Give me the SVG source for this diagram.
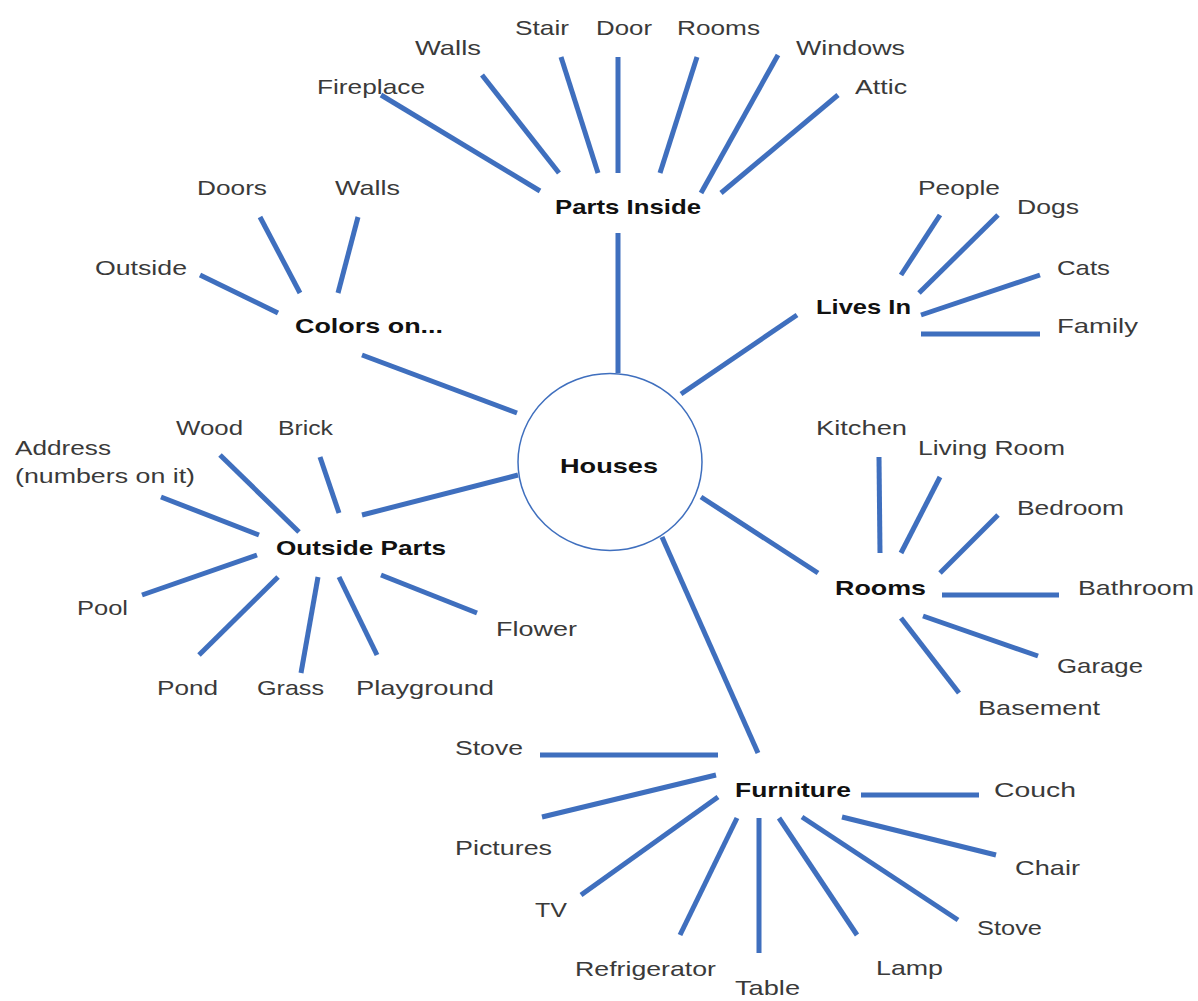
<svg xmlns="http://www.w3.org/2000/svg" width="1198" height="1001" viewBox="0 0 1198 1001">
<style>
.t{font-family:"Liberation Sans",Arial,sans-serif;font-size:21px;fill:#3a3a3a}
.b{font-family:"Liberation Sans",Arial,sans-serif;font-size:21px;font-weight:bold;fill:#111}
.c line{stroke:#3f6fbe;stroke-width:5;stroke-linecap:butt}
</style>
<rect width="1198" height="1001" fill="#fff"/>
<g id="connectors" class="c">
<line x1="618" y1="233" x2="618" y2="373"/>
<line x1="362" y1="355" x2="517" y2="413"/>
<line x1="362" y1="515" x2="518" y2="475"/>
<line x1="797" y1="315" x2="681" y2="394"/>
<line x1="701" y1="497" x2="818" y2="573"/>
<line x1="662" y1="537" x2="758" y2="753"/>
<line x1="381" y1="95" x2="540" y2="191"/>
<line x1="482" y1="75" x2="559" y2="173"/>
<line x1="561" y1="57" x2="598" y2="173"/>
<line x1="618" y1="57" x2="618" y2="173"/>
<line x1="697" y1="57" x2="660" y2="173"/>
<line x1="778" y1="55" x2="701" y2="193"/>
<line x1="838" y1="95" x2="721" y2="193"/>
<line x1="260" y1="217" x2="300" y2="293"/>
<line x1="358" y1="217" x2="338" y2="293"/>
<line x1="200" y1="275" x2="278" y2="313"/>
<line x1="940" y1="215" x2="901" y2="275"/>
<line x1="998" y1="215" x2="919" y2="293"/>
<line x1="1040" y1="275" x2="921" y2="315"/>
<line x1="921" y1="334" x2="1040" y2="334"/>
<line x1="161" y1="497" x2="259" y2="535"/>
<line x1="220" y1="455" x2="299" y2="532"/>
<line x1="320" y1="457" x2="339" y2="513"/>
<line x1="142" y1="595" x2="257" y2="555"/>
<line x1="199" y1="655" x2="278" y2="577"/>
<line x1="301" y1="673" x2="318" y2="577"/>
<line x1="377" y1="655" x2="339" y2="577"/>
<line x1="477" y1="613" x2="381" y2="575"/>
<line x1="879" y1="457" x2="880" y2="553"/>
<line x1="940" y1="477" x2="901" y2="553"/>
<line x1="998" y1="515" x2="940" y2="573"/>
<line x1="942" y1="595" x2="1059" y2="595"/>
<line x1="923" y1="616" x2="1038" y2="656"/>
<line x1="901" y1="618" x2="959" y2="693"/>
<line x1="540" y1="755" x2="718" y2="755"/>
<line x1="542" y1="817" x2="716" y2="775"/>
<line x1="581" y1="895" x2="718" y2="797"/>
<line x1="680" y1="935" x2="737" y2="818"/>
<line x1="759" y1="953" x2="759" y2="818"/>
<line x1="857" y1="935" x2="779" y2="818"/>
<line x1="958" y1="920" x2="802" y2="817"/>
<line x1="996" y1="855" x2="842" y2="817"/>
<line x1="861" y1="795" x2="979" y2="795"/>
</g>
<g id="houses">
<ellipse cx="610" cy="462" rx="92" ry="88.5" fill="#fff" stroke="#3f6fbe" stroke-width="1.5"/>
<text class="b" x="560" y="473" textLength="98" lengthAdjust="spacingAndGlyphs">Houses</text>
</g>
<g id="parts-inside"><text class="b" x="555" y="214" textLength="146" lengthAdjust="spacingAndGlyphs">Parts Inside</text></g>
<g id="colors-on"><text class="b" x="295" y="333" textLength="148" lengthAdjust="spacingAndGlyphs">Colors on...</text></g>
<g id="lives-in"><text class="b" x="816" y="314" textLength="95" lengthAdjust="spacingAndGlyphs">Lives In</text></g>
<g id="outside-parts"><text class="b" x="276" y="555" textLength="170" lengthAdjust="spacingAndGlyphs">Outside Parts</text></g>
<g id="rooms"><text class="b" x="835" y="595" textLength="91" lengthAdjust="spacingAndGlyphs">Rooms</text></g>
<g id="furniture"><text class="b" x="735" y="797" textLength="116" lengthAdjust="spacingAndGlyphs">Furniture</text></g>
<g id="fireplace"><text class="t" x="317" y="94" textLength="108" lengthAdjust="spacingAndGlyphs">Fireplace</text></g>
<g id="walls-in"><text class="t" x="415" y="55" textLength="66" lengthAdjust="spacingAndGlyphs">Walls</text></g>
<g id="stair"><text class="t" x="515" y="35" textLength="54" lengthAdjust="spacingAndGlyphs">Stair</text></g>
<g id="door"><text class="t" x="596" y="35" textLength="56" lengthAdjust="spacingAndGlyphs">Door</text></g>
<g id="rooms-in"><text class="t" x="677" y="35" textLength="83" lengthAdjust="spacingAndGlyphs">Rooms</text></g>
<g id="windows"><text class="t" x="796" y="55" textLength="109" lengthAdjust="spacingAndGlyphs">Windows</text></g>
<g id="attic"><text class="t" x="855" y="94" textLength="52" lengthAdjust="spacingAndGlyphs">Attic</text></g>
<g id="doors"><text class="t" x="197" y="195" textLength="70" lengthAdjust="spacingAndGlyphs">Doors</text></g>
<g id="walls-col"><text class="t" x="335" y="195" textLength="65" lengthAdjust="spacingAndGlyphs">Walls</text></g>
<g id="outside"><text class="t" x="95" y="275" textLength="92" lengthAdjust="spacingAndGlyphs">Outside</text></g>
<g id="people"><text class="t" x="918" y="195" textLength="82" lengthAdjust="spacingAndGlyphs">People</text></g>
<g id="dogs"><text class="t" x="1017" y="214" textLength="62" lengthAdjust="spacingAndGlyphs">Dogs</text></g>
<g id="cats"><text class="t" x="1057" y="275" textLength="53" lengthAdjust="spacingAndGlyphs">Cats</text></g>
<g id="family"><text class="t" x="1057" y="333" textLength="81" lengthAdjust="spacingAndGlyphs">Family</text></g>
<g id="address"><text class="t" x="15" y="455" textLength="96" lengthAdjust="spacingAndGlyphs">Address</text><text class="t" x="15" y="483" textLength="180" lengthAdjust="spacingAndGlyphs">(numbers on it)</text></g>
<g id="wood"><text class="t" x="176" y="435" textLength="67" lengthAdjust="spacingAndGlyphs">Wood</text></g>
<g id="brick"><text class="t" x="278" y="435" textLength="55" lengthAdjust="spacingAndGlyphs">Brick</text></g>
<g id="pool"><text class="t" x="77" y="615" textLength="51" lengthAdjust="spacingAndGlyphs">Pool</text></g>
<g id="flower"><text class="t" x="496" y="636" textLength="81" lengthAdjust="spacingAndGlyphs">Flower</text></g>
<g id="pond"><text class="t" x="157" y="695" textLength="61" lengthAdjust="spacingAndGlyphs">Pond</text></g>
<g id="grass"><text class="t" x="257" y="695" textLength="67" lengthAdjust="spacingAndGlyphs">Grass</text></g>
<g id="playground"><text class="t" x="356" y="695" textLength="138" lengthAdjust="spacingAndGlyphs">Playground</text></g>
<g id="kitchen"><text class="t" x="816" y="435" textLength="91" lengthAdjust="spacingAndGlyphs">Kitchen</text></g>
<g id="living-room"><text class="t" x="918" y="455" textLength="147" lengthAdjust="spacingAndGlyphs">Living Room</text></g>
<g id="bedroom"><text class="t" x="1017" y="515" textLength="107" lengthAdjust="spacingAndGlyphs">Bedroom</text></g>
<g id="bathroom"><text class="t" x="1078" y="595" textLength="116" lengthAdjust="spacingAndGlyphs">Bathroom</text></g>
<g id="garage"><text class="t" x="1057" y="673" textLength="86" lengthAdjust="spacingAndGlyphs">Garage</text></g>
<g id="basement"><text class="t" x="978" y="715" textLength="122" lengthAdjust="spacingAndGlyphs">Basement</text></g>
<g id="stove-l"><text class="t" x="455" y="755" textLength="68" lengthAdjust="spacingAndGlyphs">Stove</text></g>
<g id="pictures"><text class="t" x="455" y="855" textLength="97" lengthAdjust="spacingAndGlyphs">Pictures</text></g>
<g id="tv"><text class="t" x="535" y="917" textLength="32" lengthAdjust="spacingAndGlyphs">TV</text></g>
<g id="refrigerator"><text class="t" x="575" y="976" textLength="141" lengthAdjust="spacingAndGlyphs">Refrigerator</text></g>
<g id="table"><text class="t" x="735" y="995" textLength="65" lengthAdjust="spacingAndGlyphs">Table</text></g>
<g id="lamp"><text class="t" x="876" y="975" textLength="67" lengthAdjust="spacingAndGlyphs">Lamp</text></g>
<g id="stove-r"><text class="t" x="977" y="935" textLength="65" lengthAdjust="spacingAndGlyphs">Stove</text></g>
<g id="chair"><text class="t" x="1015" y="875" textLength="65" lengthAdjust="spacingAndGlyphs">Chair</text></g>
<g id="couch"><text class="t" x="994" y="797" textLength="82" lengthAdjust="spacingAndGlyphs">Couch</text></g>
</svg>
